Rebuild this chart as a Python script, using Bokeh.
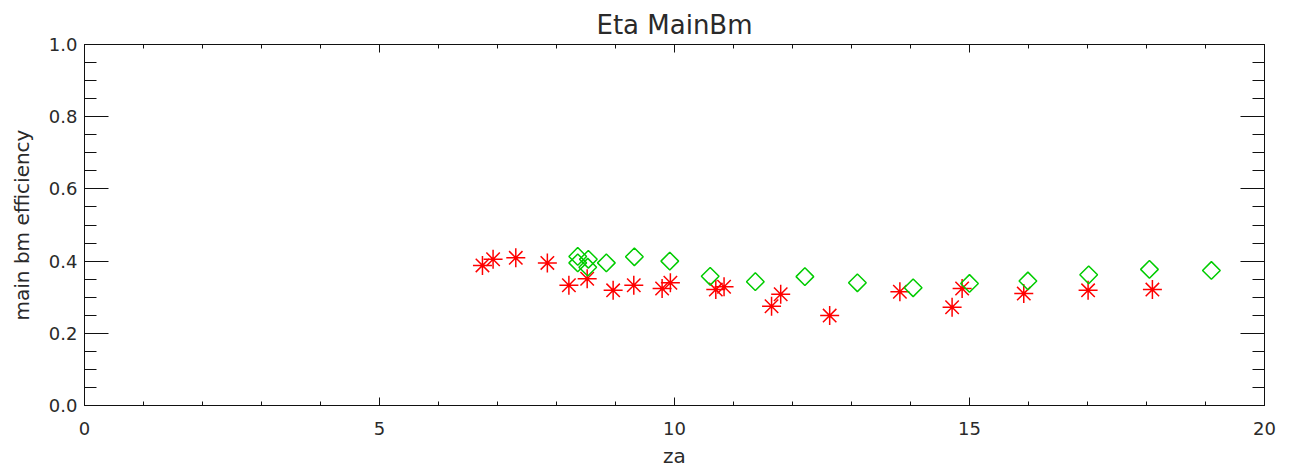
import numpy as np
from bokeh.plotting import figure
from bokeh.models import Range1d, FixedTicker, LinearAxis, PrintfTickFormatter
from bokeh.embed import file_html
from bokeh.resources import INLINE

# data
red_za = [6.745, 6.925, 7.31, 7.845, 8.21, 8.52, 8.96, 9.31, 9.79, 9.93, 10.70,
          10.84, 11.645, 11.80, 12.63, 13.82, 14.705, 14.875, 15.92, 17.01, 18.10]
red_eff = [0.388, 0.405, 0.409, 0.395, 0.333, 0.351, 0.319, 0.333, 0.324, 0.340, 0.321,
           0.329, 0.275, 0.308, 0.249, 0.315, 0.272, 0.324, 0.310, 0.319, 0.321]
green_za = [8.36, 8.54, 8.36, 8.53, 8.845, 9.32, 9.92, 10.605, 11.37, 12.21, 13.10,
            14.045, 15.00, 15.99, 17.02, 18.05, 19.10]
green_eff = [0.413, 0.405, 0.395, 0.383, 0.395, 0.412, 0.400, 0.358, 0.343, 0.357, 0.340,
             0.326, 0.338, 0.345, 0.362, 0.377, 0.374]

x_major = [0, 5, 10, 15, 20]
x_minor = list(range(0, 21))
y_major = [0.0, 0.2, 0.4, 0.6, 0.8, 1.0]
y_minor = [round(i * 0.05, 2) for i in range(0, 21)]

FONT = "DejaVu Sans"
TXT = "#2a2a2a"

p = figure(frame_width=1180, frame_height=361, output_backend="svg", toolbar_location=None,
           x_range=Range1d(0, 20), y_range=Range1d(0, 1),
           min_border_left=84, min_border_top=44, min_border_right=16, min_border_bottom=40,
           title="Eta MainBm")
p.title.align = "center"
p.title.text_font = FONT
p.title.text_font_size = "26px"
p.title.text_font_style = "normal"
p.title.text_color = TXT
p.title.offset = 6
p.outline_line_color = None
p.xgrid.visible = False
p.ygrid.visible = False
p.background_fill_color = "white"
p.border_fill_color = "white"


def style(ax, ticks, minor, tin, tmin, labels=True):
    ax.ticker = FixedTicker(ticks=ticks, minor_ticks=minor)
    ax.major_tick_in = tin
    ax.major_tick_out = 0
    ax.minor_tick_in = tmin
    ax.minor_tick_out = 0
    ax.axis_line_color = "#111111"
    ax.major_tick_line_color = "#111111"
    ax.minor_tick_line_color = "#111111"
    ax.major_label_text_font = FONT
    ax.major_label_text_font_size = "18px"
    ax.major_label_text_color = TXT
    ax.axis_label_text_font = FONT
    ax.axis_label_text_font_size = "20px"
    ax.axis_label_text_font_style = "normal"
    ax.axis_label_text_color = TXT
    if not labels:
        ax.major_label_text_color = None
        ax.major_label_text_font_size = "0px"


xa = p.xaxis[0]
style(xa, x_major, x_minor, 8, 4)
xa.axis_label = "za"
xa.major_label_standoff = 16
xa.axis_label_standoff = 6

ya = p.yaxis[0]
style(ya, y_major, y_minor, 24, 12)
ya.formatter = PrintfTickFormatter(format="%.1f")
ya.axis_label = "main bm efficiency"
ya.major_label_standoff = 7
ya.axis_label_standoff = 12

top = LinearAxis()
style(top, x_major, x_minor, 8, 4, labels=False)
p.add_layout(top, "above")
right = LinearAxis()
style(right, y_major, y_minor, 24, 12, labels=False)
p.add_layout(right, "right")

p.scatter(red_za, red_eff, marker="asterisk", size=19, line_color="#ff0000", line_width=1.5)
p.scatter(green_za, green_eff, marker="square", angle=np.pi / 4, size=12.5,
          fill_color=None, line_color="#00cc00", line_width=1.5)

open("out.html", "w").write(file_html(p, INLINE))
